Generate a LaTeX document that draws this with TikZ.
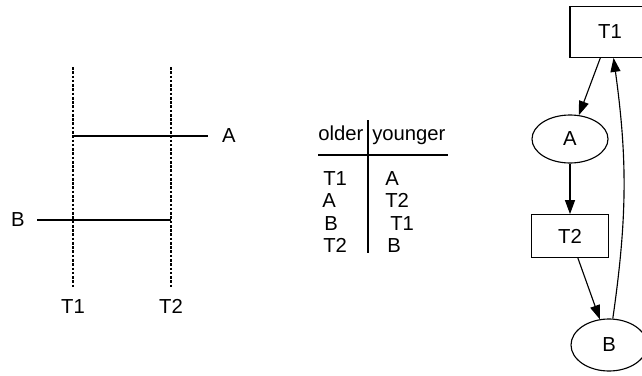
\documentclass[tikz,border=0pt]{standalone}
\usepackage{fontspec}
\setmainfont{Liberation Sans}
\usepackage{tikz}
\usetikzlibrary{arrows.meta,shapes.geometric}

\tikzset{
  lbl/.style = {inner sep=0pt, font=\fontsize{15.2}{17}\selectfont},
  timeline/.style = {line width=0.9pt, dash pattern=on 2pt off 1.2pt},
  life/.style = {line width=1.5pt},
  txnode/.style = {draw, rectangle, line width=0.85pt, minimum width=60pt, minimum height=38pt, font=\fontsize{15.2}{17}\selectfont},
  objnode/.style = {draw, ellipse, line width=0.85pt, minimum width=57pt, minimum height=36pt, inner sep=0pt, font=\fontsize{15.2}{17}\selectfont},
  arr/.style = {-{Triangle[length=10.5pt,width=7.5pt]}, line width=0.85pt}
}

\begin{document}
\begin{tikzpicture}[x=0.75pt, y=-0.75pt]
\clip (0,0) rectangle (642,375);
% time lines
\coordinate (t1top) at (73,67);   \coordinate (t1bot) at (73,288);
\coordinate (t2top) at (171,67);  \coordinate (t2bot) at (171,288);
\draw [timeline] (t1top) -- (t1bot);
\draw [timeline] (t2top) -- (t2bot);
\node [lbl, anchor=base] (lT1) at (73,313) {T1};
\node [lbl, anchor=base] (lT2) at (171,313) {T2};
\coordinate (aL) at (73,136);  \coordinate (aR) at (208,136);
\coordinate (bL) at (37,220);  \coordinate (bR) at (171,220);
\draw [life] (aL) -- (aR);
\draw [life] (bL) -- (bR);
\node [lbl, anchor=base] (lA) at (229,142) {A};
\node [lbl, anchor=base] (lB) at (18,226) {B};
% table
\node [lbl, anchor=base west] (hOld) at (318,140) {older};
\node [lbl, anchor=base west] (hYoung) at (372,140) {younger};
\coordinate (vTop) at (368,120);  \coordinate (vBot) at (368,253);
\coordinate (hL) at (318,155);    \coordinate (hR) at (448,155);
\draw [line width=1.2pt] (vTop) -- (vBot);
\draw [line width=1.2pt] (hL) -- (hR);
\node [lbl, anchor=base west] (o1) at (323,185) {T1};
\node [lbl, anchor=base west] (o2) at (322,207) {A};
\node [lbl, anchor=base west] (o3) at (324,230) {B};
\node [lbl, anchor=base west] (o4) at (323,252) {T2};
\node [lbl, anchor=base west] (y1) at (385,185) {A};
\node [lbl, anchor=base west] (y2) at (385,207) {T2};
\node [lbl, anchor=base west] (y3) at (390,230) {T1};
\node [lbl, anchor=base west] (y4) at (387,252) {B};
% graph
\node [txnode] (T1) at (610,32) {T1};
\node [objnode] (A) at (570,139) {A};
\node [txnode, minimum height=32pt, minimum width=58pt] (T2) at (570,236) {T2};
\node [objnode, minimum height=39pt] (B) at (609,345) {B};
\draw [arr] (T1) -- (A);
\draw [arr] (A) -- (T2);
\draw [arr] (T2) -- (B);
\draw [arr] (B) to[bend right=8] (T1);
\end{tikzpicture}
\end{document}
